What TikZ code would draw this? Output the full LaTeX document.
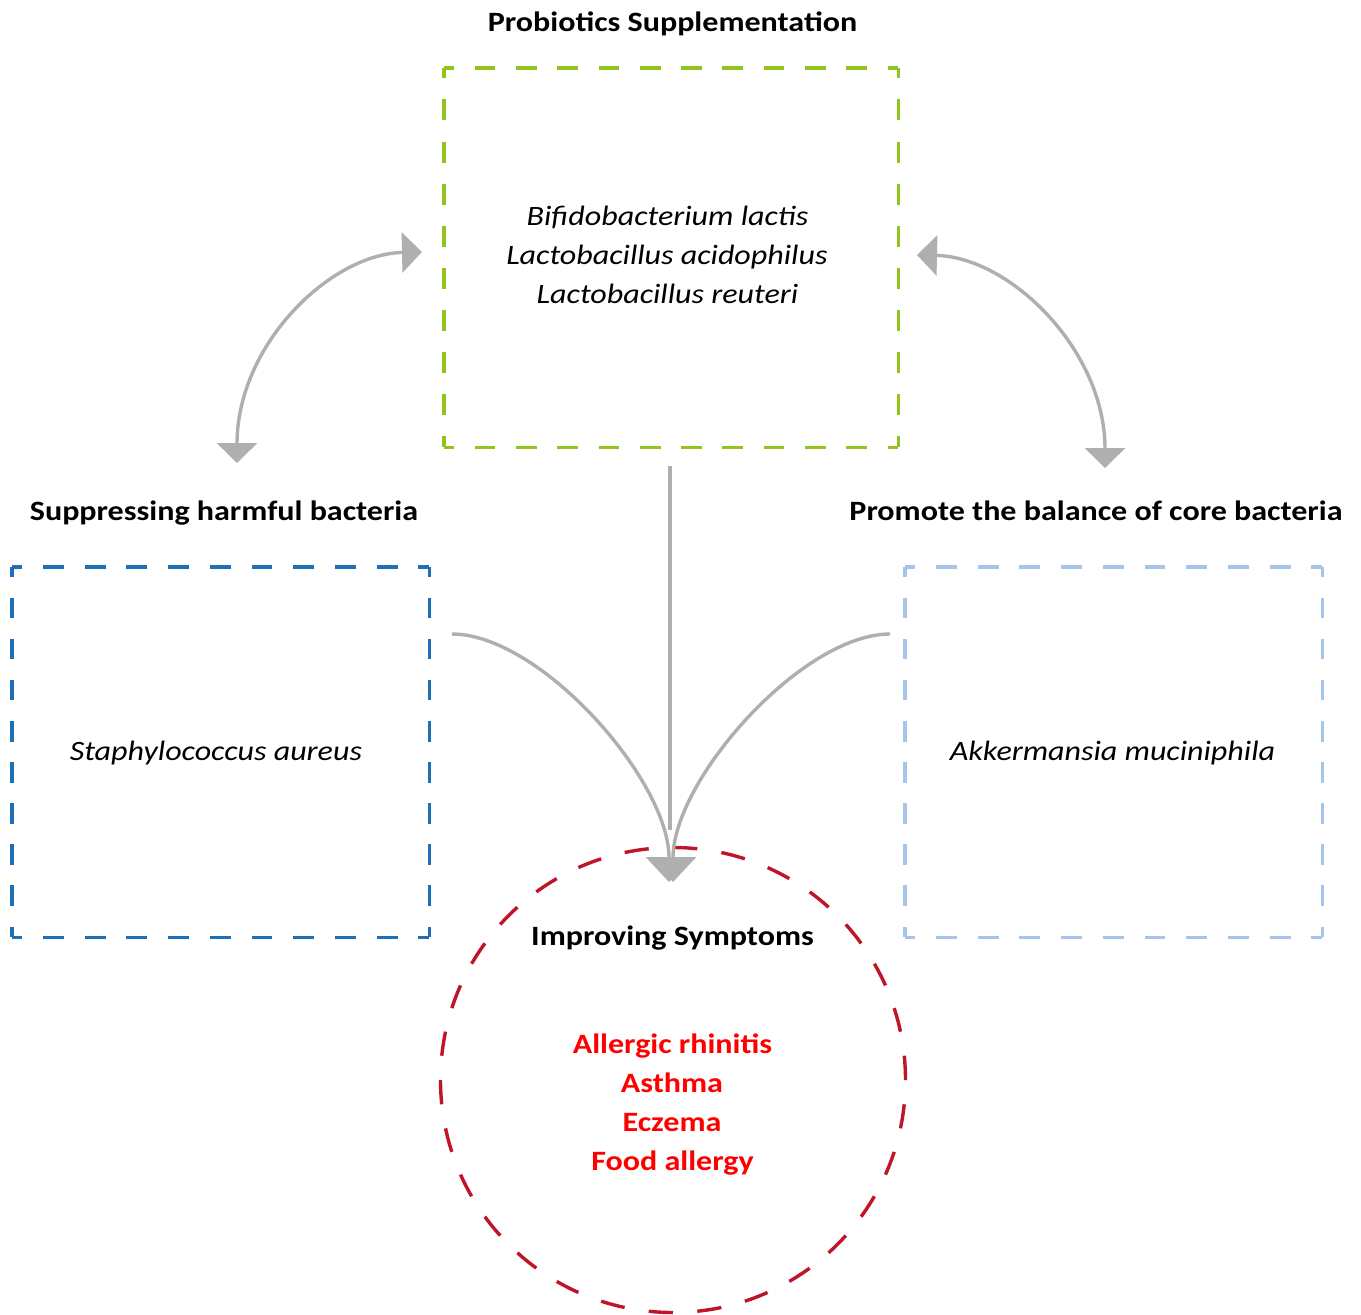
\documentclass[tikz,border=0pt]{standalone}
\usepackage{fontspec}
\setmainfont{Carlito}[FakeStretch=1.145]
\usetikzlibrary{arrows.meta}
\definecolor{pgreen}{RGB}{146,196,30}
\definecolor{pblue}{RGB}{30,112,182}
\definecolor{plight}{RGB}{166,196,234}
\definecolor{pred}{RGB}{192,20,40}
\definecolor{tred}{RGB}{255,0,0}
\definecolor{agray}{RGB}{175,175,175}
\begin{document}
\begin{tikzpicture}[x=1pt,y=-1pt,
  lbl/.style={font=\fontsize{28}{39}\selectfont\bfseries, anchor=base, inner sep=0pt},
  itl/.style={font=\fontsize{28}{39}\selectfont\itshape, anchor=base, inner sep=0pt},
  symp/.style={font=\fontsize{28}{39}\selectfont\bfseries, text=tred, anchor=base, inner sep=0pt},
  boxarea/.style={rectangle, inner sep=0pt, draw=none},
  dashedge/.style n args={2}{line width=3.4pt, dash pattern=on #1 off #1, dash phase=#2},
  dbl/.style={draw=agray, line width=3.4pt, {Triangle[length=20pt,width=40pt]}-{Triangle[length=20pt,width=40pt]}},
  conv/.style={draw=agray, line width=3.4pt, -{Triangle[length=25pt,width=46pt]}},
  plainline/.style={draw=agray, line width=3.4pt}
]
\fill[white] (0,0) rectangle (1361,1315);

% boxes
\node[boxarea, minimum width=454pt, minimum height=379pt] (pb) at (671,257.5) {};
\node[boxarea, minimum width=417pt, minimum height=370pt] (hb) at (220.5,752) {};
\node[boxarea, minimum width=417pt, minimum height=370pt] (cb) at (1113.5,752) {};

\draw[pgreen, dashedge={20.64pt}{10.32pt}] (pb.north west) -- (pb.north east) (pb.south west) -- (pb.south east);
\draw[pgreen, dashedge={21.06pt}{10.53pt}] (pb.north west) -- (pb.south west) (pb.north east) -- (pb.south east);
\draw[pblue, dashedge={20.85pt}{10.43pt}] (hb.north west) -- (hb.north east) (hb.south west) -- (hb.south east);
\draw[pblue, dashedge={20.56pt}{10.28pt}] (hb.north west) -- (hb.south west) (hb.north east) -- (hb.south east);
\draw[plight, dashedge={20.85pt}{10.43pt}] (cb.north west) -- (cb.north east) (cb.south west) -- (cb.south east);
\draw[plight, dashedge={20.56pt}{10.28pt}] (cb.north west) -- (cb.south west) (cb.north east) -- (cb.south east);

\node[circle, minimum size=465pt, inner sep=0pt, draw=pred, line width=3.4pt, dash pattern=on 24.35pt off 24.35pt] (sy) at (673,1080) {};

% texts
\node[lbl] (t1) at (672.5,31) {Probiotics Supplementation};
\node[itl] (p1) at (667.5,225) {Bifidobacterium lactis};
\node[itl] (p2) at (667,264) {Lactobacillus acidophilus};
\node[itl] (p3) at (667.5,303) {Lactobacillus reuteri};
\node[lbl] (t2) at (224,520) {Suppressing harmful bacteria};
\node[lbl] (t3) at (1096,520) {Promote the balance of core bacteria};
\node[itl] (s1) at (216,760) {Staphylococcus aureus};
\node[itl] (a1) at (1112.5,760) {Akkermansia muciniphila};
\node[lbl] (t4) at (672.5,945) {Improving Symptoms};
\node[symp] (r1) at (672.5,1053) {Allergic rhinitis};
\node[symp] (r2) at (672,1092) {Asthma};
\node[symp] (r3) at (672,1131) {Eczema};
\node[symp] (r4) at (672.5,1170) {Food allergy};

% connectors
\coordinate (la) at (422,252);
\coordinate (lb) at (237,463);
\coordinate (ra) at (917,255);
\coordinate (rb) at (1105,468);
\coordinate (vtop) at (670,466);
\coordinate (vbot) at (670,830);
\coordinate (hl) at (452,634);
\coordinate (hr) at (890,634);
\coordinate (tipL) at (669,882);
\coordinate (tipR) at (673,882);

\draw[dbl] (la) .. controls (330,254) and (237,345) .. (lb);
\draw[dbl] (ra) .. controls (1010,257) and (1105,350) .. (rb);
\draw[plainline] (vtop) -- (vbot);
\draw[conv] (hl) .. controls (540,634) and (669,780) .. (tipL);
\draw[conv] (hr) .. controls (802,634) and (673,780) .. (tipR);
\end{tikzpicture}
\end{document}
